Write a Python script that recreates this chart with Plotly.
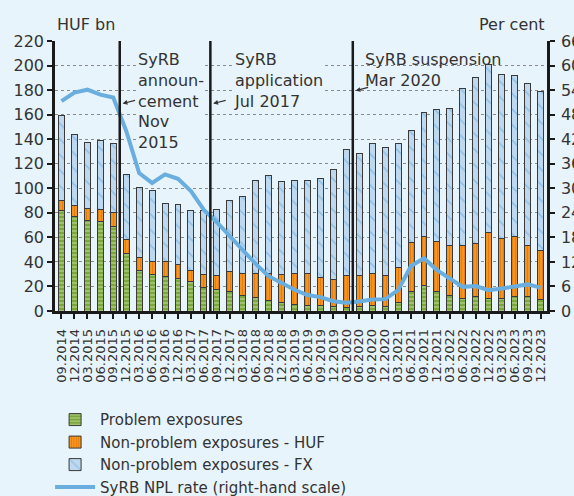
import plotly.graph_objects as go

quarters = ["09.2014", "12.2014", "03.2015", "06.2015", "09.2015", "12.2015",
            "03.2016", "06.2016", "09.2016", "12.2016", "03.2017", "06.2017",
            "09.2017", "12.2017", "03.2018", "06.2018", "09.2018", "12.2018",
            "03.2019", "06.2019", "09.2019", "12.2019", "03.2020", "06.2020",
            "09.2020", "12.2020", "03.2021", "06.2021", "09.2021", "12.2021",
            "03.2022", "06.2022", "09.2022", "12.2022", "03.2023", "06.2023",
            "09.2023", "12.2023"]

problem = [81.5, 77.2, 73.7, 72.9, 69.0, 47.1, 33.0, 29.8, 28.2, 26.5, 24.4, 19.5,
           17.6, 15.7, 12.7, 11.4, 8.7, 7.0, 5.7, 4.3, 4.1, 3.3, 2.7, 3.3,
           4.1, 3.5, 7.0, 16.3, 20.9, 16.3, 12.7, 10.3, 11.9, 10.3, 10.3, 11.9,
           11.9, 9.5]

nonproblem_huf = [8.7, 8.9, 9.7, 9.7, 11.2, 11.1, 10.6, 10.6, 11.9, 11.7, 8.6, 10.3,
                  11.4, 16.5, 18.2, 19.5, 21.6, 22.8, 24.6, 26.6, 23.5, 22.7, 26.6, 25.7,
                  26.2, 25.2, 28.2, 39.2, 39.8, 40.0, 40.7, 42.8, 43.1, 53.6, 48.7, 48.8,
                  41.5, 40.1]

nonproblem_fx = [69.3, 57.4, 54.1, 56.3, 56.2, 52.8, 57.4, 57.6, 47.9, 48.5, 48.8, 52.0,
                 53.6, 57.8, 62.3, 75.3, 79.9, 75.6, 76.1, 75.3, 80.2, 89.4, 101.9, 99.3,
                 106.1, 104.5, 101.2, 91.2, 101.0, 107.5, 112.0, 128.1, 135.4, 136.8, 133.8, 130.8,
                 131.6, 129.3]

npl_rate = [51.3, 53.4, 54.1, 52.9, 52.2, 44.0, 33.7, 31.3, 33.4, 32.3, 29.3, 24.7,
            21.7, 18.3, 14.6, 11.5, 8.5, 6.8, 5.2, 3.9, 3.4, 2.4, 2.0, 2.3,
            2.8, 2.9, 5.1, 11.0, 12.9, 10.0, 7.9, 5.9, 6.1, 5.1, 5.5, 6.1,
            6.5, 5.7]

left_ticks = list(range(0, 221, 20))
right_ticks = list(range(0, 67, 6))

# event markers: position between quarters (category index) and label text
event_pos = [4.5, 11.5, 22.5]
event_text = ["SyRB<br>announ-<br>cement<br>Nov<br>2015",
              "SyRB<br>application<br>Jul 2017",
              "SyRB suspension<br>Mar 2020"]

# annotation placement (layout, not data)
text_dx = [1.33, 1.72, 0.86]
arrow_y = [169, 169, 179.5]

BG = "#e8f4fb"
FONT = "DejaVu Sans"
TXT = "#333333"
text_bg = [BG, BG, "rgba(0,0,0,0)"]
x_idx = list(range(len(quarters)))

fig = go.Figure()
outline = dict(color="#3a3a3a", width=1)
fig.add_trace(go.Bar(
    x=x_idx, y=problem, name="Problem exposures", width=0.46,
    marker=dict(color="#7aa63a", line=outline,
                pattern=dict(shape="-", fgcolor="#cfe3a8", size=4, solidity=0.45,
                             fillmode="overlay"))))
fig.add_trace(go.Bar(
    x=x_idx, y=nonproblem_huf, name="Non-problem exposures - HUF", width=0.46,
    marker=dict(color="#f7941d", line=outline,
                pattern=dict(shape="|", fgcolor="#c85a00", size=3, solidity=0.25,
                             fillmode="overlay"))))
fig.add_trace(go.Bar(
    x=x_idx, y=nonproblem_fx, name="Non-problem exposures - FX", width=0.46,
    marker=dict(color="#bed8ef", line=outline,
                pattern=dict(shape="\\", fgcolor="#5aa2d8", size=11, solidity=0.14,
                             fillmode="overlay"))))
fig.add_trace(go.Scatter(
    x=x_idx, y=npl_rate, name="SyRB NPL rate (right-hand scale)", yaxis="y2",
    mode="lines", line=dict(color="#6aaee0", width=4)))

for pos, txt, dx, ay, tbg in zip(event_pos, event_text, text_dx, arrow_y, text_bg):
    fig.add_shape(type="line", xref="x", yref="y", x0=pos, x1=pos,
                  y0=0, y1=220, line=dict(color="#1a1a1a", width=2.5), layer="above")
    fig.add_annotation(xref="x", yref="y", x=pos + 0.22, y=ay,
                       ax=pos + 1.3, ay=ay + 3, axref="x", ayref="y",
                       showarrow=True, arrowhead=2, arrowsize=0.8, arrowwidth=1.2,
                       arrowcolor="#333333", text="")
    fig.add_annotation(xref="x", yref="y", x=pos + dx, y=220, yshift=-8,
                       xanchor="left", yanchor="top", text=txt, showarrow=False,
                       align="left", bgcolor=tbg, borderpad=0,
                       font=dict(family=FONT, size=16, color=TXT))

fig.add_annotation(xref="paper", yref="paper", x=0, y=1.02, xanchor="left",
                   yanchor="bottom", text="HUF bn", showarrow=False,
                   font=dict(family=FONT, size=16, color=TXT))
fig.add_annotation(xref="paper", yref="paper", x=1, y=1.02, xanchor="right",
                   yanchor="bottom", text="Per cent", showarrow=False,
                   font=dict(family=FONT, size=16, color=TXT))

# figure is a bit taller than the 496px window so the legend's auto-margin
# padding falls below the visible area; plot area stays at y=41..311
FIG_H = 522
fig.update_layout(
    width=574, height=FIG_H,
    template="none",
    barmode="stack",
    paper_bgcolor=BG, plot_bgcolor=BG,
    margin=dict(l=55, r=27, t=41, b=FIG_H - 311),
    font=dict(family=FONT, size=16, color=TXT),
    showlegend=True,
    legend=dict(orientation="v", x=-0.01, y=-0.342, xanchor="left", yanchor="top",
                itemwidth=40, traceorder="normal", bgcolor="rgba(0,0,0,0)",
                font=dict(family=FONT, size=15, color=TXT)),
    xaxis=dict(range=[-0.5, len(quarters) - 0.5], tickmode="array", tickvals=x_idx,
               ticktext=quarters, tickangle=-90, tickson="boundaries",
               ticks="outside", ticklen=5, tickwidth=1.5, tickcolor="#1a1a1a",
               ticklabelstandoff=5,
               showline=True, linecolor="#1a1a1a", linewidth=2.5, showgrid=False,
               zeroline=False, automargin=False,
               tickfont=dict(family=FONT, size=13, color=TXT)),
    yaxis=dict(range=[0, 220], tickmode="array", tickvals=left_ticks,
               ticks="outside", ticklen=5, tickwidth=2, tickcolor="#1a1a1a",
               showline=True, linecolor="#1a1a1a", linewidth=2.5,
               showgrid=True, gridcolor="#8a8a8a", griddash="dot", gridwidth=1,
               zeroline=False, automargin=False,
               tickfont=dict(family=FONT, size=16, color=TXT)),
    yaxis2=dict(range=[0, 66], tickmode="array", tickvals=right_ticks,
                overlaying="y", side="right",
                ticks="outside", ticklen=5, tickwidth=2, tickcolor="#1a1a1a",
                ticklabelstandoff=3,
                showline=True, linecolor="#1a1a1a", linewidth=2.5,
                showgrid=False, zeroline=False, automargin=False,
                tickfont=dict(family=FONT, size=16, color=TXT)),
)

fig.write_html("out.html", config={"displayModeBar": False},
               post_script=("document.body.style.margin='0';"
                            "document.body.style.overflow='hidden';"
                            "document.documentElement.style.overflow='hidden';"
                            "document.body.style.background='#e8f4fb';"))
